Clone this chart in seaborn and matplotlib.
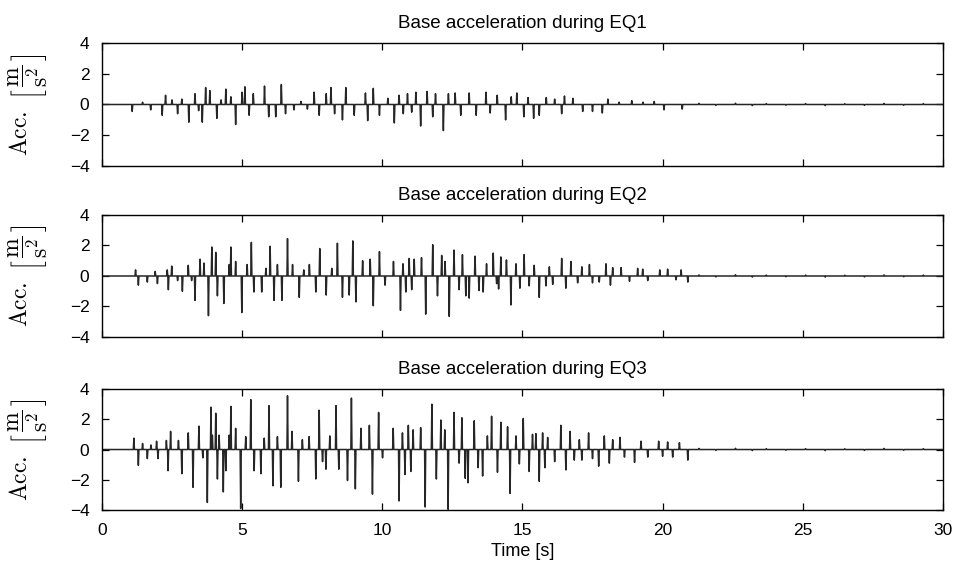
import numpy as np
import pandas as pd
import seaborn as sns
import matplotlib.pyplot as plt

# spike peaks: time [s] and acceleration [m/s^2]
eq1_t = [1.08, 1.45, 1.74, 2.15, 2.27, 2.5, 2.7, 2.85, 3.1, 3.32, 3.45, 3.58, 3.7, 3.85,
         4.1, 4.25, 4.42, 4.6, 4.77, 5.0, 5.1, 5.25, 5.4, 5.8, 5.95, 6.2, 6.4, 6.55, 6.85,
         7.1, 7.33, 7.57, 7.75, 8.0, 8.17, 8.3, 8.58, 8.7, 9.0, 9.4, 9.48, 9.68, 9.9, 10.2,
         10.43, 10.6, 10.75, 10.9, 11.05, 11.2, 11.37, 11.6, 11.8, 11.9, 12.18, 12.36, 12.6,
         12.8, 13.1, 13.35, 13.7, 13.85, 14.1, 14.4, 14.6, 14.8, 15.05, 15.2, 15.4, 15.6,
         15.85, 16.15, 16.4, 16.5, 16.8, 17.15, 17.5, 17.85, 18.05, 18.45, 18.9, 19.3, 19.7,
         20.05, 20.7]
eq1_a = [-0.45, 0.15, -0.35, -0.7, 0.6, 0.3, -0.6, 0.35, -1.15, 0.7, -0.4, -1.15, 1.1, 0.9,
         -0.9, 0.3, 1.0, 0.5, -1.3, 0.8, 1.15, -0.7, 0.7, 1.2, -0.8, -0.8, 1.3, -0.6, -0.35,
         0.2, -0.3, 0.8, -0.7, 0.7, 1.1, -0.6, -1.0, 1.1, -0.7, 0.75, -1.05, 1.05, -0.7, 0.4,
         -1.2, 0.6, -0.6, 0.7, -0.5, 0.8, -1.4, 0.85, -0.8, 0.7, -1.7, 0.7, 0.75,
         -0.7, 0.75, -0.7, 0.8, -0.55, 0.6, -1.0, 0.5, 0.75, -0.8, 0.45, -0.9, -0.7,
         0.45, 0.35, -0.6, 0.55, 0.4, -0.45, -0.45, -0.55, 0.35, 0.15, 0.25, 0.15, 0.2,
         -0.35, -0.3]

eq2_t = [1.2, 1.3, 1.62, 1.9, 1.98, 2.33, 2.37, 2.49, 2.7, 2.87, 3.08, 3.2, 3.32, 3.5, 3.64,
         3.8, 3.92, 4.06, 4.12, 4.35, 4.54, 4.6, 4.77, 4.99, 5.18, 5.33, 5.42, 5.7, 5.85, 6.0,
         6.14, 6.26, 6.42, 6.62, 6.8, 7.04, 7.2, 7.4, 7.63, 7.77, 8.0, 8.2, 8.4, 8.58, 8.82,
         8.95, 9.06, 9.3, 9.57, 9.68, 9.9, 10.1, 10.4, 10.65, 10.74, 10.84, 10.96, 11.05,
         11.14, 11.4, 11.55, 11.8, 11.97, 12.12, 12.24, 12.39, 12.56, 12.74, 12.86, 12.98,
         13.1, 13.31, 13.45, 13.6, 13.72, 13.96, 14.08, 14.15, 14.23, 14.43, 14.59, 14.77,
         14.91, 15.06, 15.24, 15.42, 15.6, 15.84, 15.96, 16.08, 16.4, 16.55, 16.73, 16.97,
         17.12, 17.39, 17.5, 17.74, 17.98, 18.14, 18.22, 18.52, 18.82, 19.11, 19.29, 19.47,
         19.9, 20.18, 20.48, 20.66, 20.9]
eq2_a = [0.4, -0.6, -0.4, 0.3, -0.5, 0.4, -0.9, 0.65, -0.3, -1.0, 0.7, -0.3, -1.6, 1.1, 0.85,
         -2.6, 1.9, 1.55, -1.3, -1.8, 0.75, 1.9, 0.95, -2.4, 0.75, 2.2, -1.05, -1.05, 0.5, 1.95,
         -1.6, 0.75, -1.6, 2.45, 0.75, -1.4, 0.4, 0.75, -1.05, 1.8, -1.25, 0.5, 2.15, -1.4, -1.25,
         2.3, -1.7, 1.0, 1.1, -1.95, 1.6, -0.6, 0.95, -2.25, 0.8, -1.05, 1.15, -0.9,
         1.1, 1.2, -2.5, 2.05, -1.3, 1.35, 0.95, -2.65, 1.7, -0.9, 1.4, -1.3,
         -1.45, 1.3, -0.95, -1.05, 0.8, 1.5, -0.5, -0.85, 1.25, 1.05, -1.9, 0.8,
         -0.8, 1.4, -0.65, 0.7, -1.4, -0.65, 0.6, -0.55, 1.15, -0.8, 0.95, -0.45,
         0.6, 0.75, -0.45, -0.4, 0.8, -0.6, 0.55, 0.55, -0.35, 0.5, 0.45, -0.3,
         0.4, 0.45, -0.25, 0.4, -0.4]

eq3_t = [1.14, 1.3, 1.45, 1.62, 1.75, 1.95, 2.0, 2.3, 2.36, 2.45, 2.73, 2.85, 3.08, 3.25,
         3.46, 3.6, 3.76, 3.89, 3.94, 4.06, 4.12, 4.18, 4.33, 4.42, 4.54, 4.6, 4.77, 4.95,
         5.13, 5.31, 5.43, 5.67, 5.79, 5.96, 6.1, 6.26, 6.38, 6.62, 6.78, 7.01, 7.15, 7.39,
         7.63, 7.75, 7.87, 7.99, 8.13, 8.35, 8.45, 8.76, 8.9, 9.04, 9.24, 9.54, 9.65, 9.87,
         10.01, 10.39, 10.6, 10.72, 10.81, 10.93, 11.02, 11.1, 11.37, 11.53, 11.77, 11.93,
         12.09, 12.23, 12.35, 12.56, 12.74, 12.84, 12.96, 13.06, 13.28, 13.42, 13.58, 13.75,
         13.9, 14.11, 14.23, 14.47, 14.56, 14.77, 14.89, 15.03, 15.24, 15.36, 15.48, 15.6,
         15.72, 15.8, 15.9, 16.15, 16.37, 16.55, 16.7, 16.85, 17.03, 17.12, 17.36, 17.5,
         17.72, 17.92, 18.1, 18.22, 18.48, 18.64, 19.0, 19.23, 19.47, 19.86, 20.0, 20.18,
         20.36, 20.6, 20.9]
eq3_a = [0.75, -1.05, 0.4, -0.6, 0.3, 0.55, -0.6, 0.6, -1.4, 1.2, 0.6, -1.6, 1.1, -2.5,
         1.55, -0.55, -3.5, 2.8, 0.95, 2.4, -1.95, 0.95, -2.8, -1.4, 0.95, 2.85, 1.4, -3.9,
         0.85, 3.3, -1.4, -1.6, 0.75, 2.9, -2.4, 0.85, -2.5, 3.55, 1.2, -2.1, 0.65, 0.85,
         -1.95, 2.6, -0.8, -1.3, 0.9, 2.9, -1.3, -2.05, 3.4, -2.6, 1.4, 1.6, -2.95, 2.45,
         -0.55, 1.4, -3.4, 1.1, -1.65, 1.6, -1.45, 1.3, 1.45, -3.8, 3.0, -1.95,
         1.95, 1.3, -3.95, 2.45, -0.9, 2.1, -1.9, -2.2, 1.9, -1.2, -1.75, 0.9,
         2.2, -1.5, 1.8, 1.5, -2.9, 0.9, -0.95, 2.05, -1.45, 1.0, 1.05, -2.1,
         1.1, -1.2, 0.8, -0.8, 1.6, -1.35, 1.2, -0.7, 0.65, -0.7, 1.1, -0.6,
         -1.1, 0.9, -0.9, 0.65, 0.8, -0.5, -0.85, 0.55, -0.5, 0.55, -0.45, 0.5,
         -0.5, 0.45, -0.7]

# small wiggles that remain after the shaking stops
tail_t = [21.3, 21.9, 22.6, 23.2, 23.7, 24.4, 25.1, 25.8, 26.5, 27.2, 27.9, 28.6, 29.3]
tail_a = [0.07, -0.06, 0.08, -0.07, 0.06, -0.05, 0.06, -0.07, 0.05, -0.06, 0.07, -0.05, 0.06]

titles = ['Base acceleration during EQ1', 'Base acceleration during EQ2',
          'Base acceleration during EQ3']


def make_trace(ts, vs, half=0.02):
    # each reading becomes a narrow spike rising out of the zero line
    ts = list(ts) + tail_t
    vs = list(vs) + tail_a
    t, a = [0.0], [0.0]
    for ti, vi in zip(ts, vs):
        t += [ti - half, ti, ti + half]
        a += [0.0, vi, 0.0]
    t.append(30.0)
    a.append(0.0)
    return pd.DataFrame({'Time': t, 'Acc': a})


sns.set_style('ticks')
plt.rcParams['font.family'] = ['Liberation Sans', 'DejaVu Sans']
plt.rcParams['mathtext.fontset'] = 'cm'
plt.rcParams['text.color'] = 'black'
plt.rcParams['axes.labelcolor'] = 'black'

fig = plt.figure(figsize=(9.57, 5.71), dpi=100)
boxes = [[0.1065, 0.7093, 0.8788, 0.2154],
         [0.1065, 0.4098, 0.8788, 0.2137],
         [0.1065, 0.1068, 0.8788, 0.2119]]

for k, (ts, vs) in enumerate([(eq1_t, eq1_a), (eq2_t, eq2_a), (eq3_t, eq3_a)]):
    ax = fig.add_axes(boxes[k])
    df = make_trace(ts, vs)
    sns.lineplot(data=df, x='Time', y='Acc', ax=ax, color='#262626', linewidth=1.1,
                 estimator=None, sort=False)
    ax.set_xlim(0, 30)
    ax.set_ylim(-4, 4)
    ax.set_yticks([-4, -2, 0, 2, 4])
    ax.set_xticks([0, 5, 10, 15, 20, 25, 30])
    ax.tick_params(direction='in', top=True, right=True, length=5, width=0.9,
                   labelsize=12.5, pad=9, colors='black')
    for s in ax.spines.values():
        s.set_visible(True)
        s.set_color('black')
        s.set_linewidth(1.0)
    ax.set_title(titles[k], fontsize=13.5, pad=11)
    ax.set_ylabel(r'$\mathrm{Acc.}\ \left[\,\dfrac{\mathrm{m}}{\mathrm{s}^2}\,\right]$', fontsize=17)
    ax.yaxis.set_label_coords(-0.062, 0.5)
    if k < 2:
        ax.set_xticklabels([])
        ax.set_xlabel('')
    else:
        ax.set_xlabel('Time [s]', fontsize=13, labelpad=4)

fig.savefig('out.png', dpi=100)
